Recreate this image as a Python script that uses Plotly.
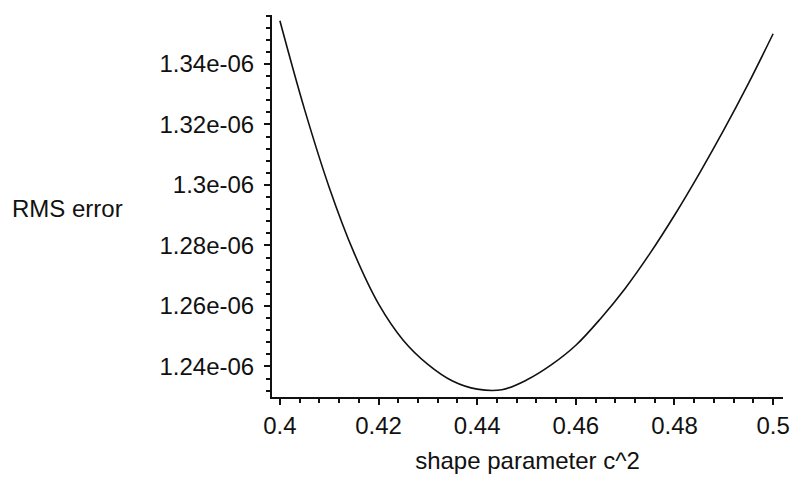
import plotly.graph_objects as go

# Data
c2 = [0.400, 0.405, 0.410, 0.415, 0.420, 0.425, 0.430, 0.435, 0.440, 0.445,
      0.450, 0.455, 0.460, 0.465, 0.470, 0.475, 0.480, 0.485, 0.490, 0.495, 0.500]
rms_e6 = [1.3543, 1.3250, 1.2992, 1.2777, 1.2607, 1.2487, 1.2407, 1.2352, 1.2325, 1.2323,
          1.2355, 1.2405, 1.2470, 1.2558, 1.2658, 1.2773, 1.2900, 1.3037, 1.3182, 1.3336, 1.3500]
rms = [v * 1e-6 for v in rms_e6]

x_tickvals = [0.40, 0.42, 0.44, 0.46, 0.48, 0.50]
x_ticktext = ["0.4", "0.42", "0.44", "0.46", "0.48", "0.5"]
y_tickvals = [1.24e-6, 1.26e-6, 1.28e-6, 1.30e-6, 1.32e-6, 1.34e-6]
y_ticktext = ["1.24e-06", "1.26e-06", "1.28e-06", "1.3e-06", "1.32e-06", "1.34e-06"]

FONT = "Liberation Sans, Arial, sans-serif"

fig = go.Figure()
fig.add_trace(go.Scatter(x=c2, y=rms, mode="lines",
                         line=dict(color="#111111", width=1.6, shape="spline", smoothing=1.0),
                         showlegend=False, hoverinfo="skip"))

fig.update_layout(
    width=800, height=480,
    margin=dict(l=272, r=10, t=15, b=76),
    paper_bgcolor="white", plot_bgcolor="white",
    font=dict(family=FONT, size=24, color="#111111"),
)

fig.update_xaxes(
    range=[0.3984, 0.502], showgrid=False, zeroline=False,
    showline=True, linecolor="#111111", linewidth=2,
    tickmode="array", tickvals=x_tickvals, ticktext=x_ticktext,
    ticks="outside", ticklen=6, tickwidth=2, tickcolor="#111111",
    tickfont=dict(family=FONT, size=24, color="#111111"),
    ticklabelstandoff=0,
    minor=dict(tick0=0.4, dtick=0.004, ticks="outside", ticklen=4, tickwidth=2, tickcolor="#111111"),
    title=dict(text="shape parameter c^2", font=dict(family=FONT, size=24, color="#111111"), standoff=14),
)

fig.update_yaxes(
    range=[1.2299e-6, 1.3562e-6], showgrid=False, zeroline=False,
    showline=True, linecolor="#111111", linewidth=2,
    tickmode="array", tickvals=y_tickvals, ticktext=y_ticktext,
    ticks="outside", ticklen=6, tickwidth=2, tickcolor="#111111",
    tickfont=dict(family=FONT, size=24, color="#111111"),
    ticklabelstandoff=5,
    minor=dict(tick0=1.24e-6, dtick=0.004e-6, ticks="outside", ticklen=4, tickwidth=2, tickcolor="#111111"),
)

fig.add_annotation(
    text="RMS error", xref="paper", yref="y", x=-0.513, y=1.2923e-6,
    xanchor="left", yanchor="middle", showarrow=False,
    font=dict(family=FONT, size=24, color="#111111"),
)

fig.write_html("out.html")
